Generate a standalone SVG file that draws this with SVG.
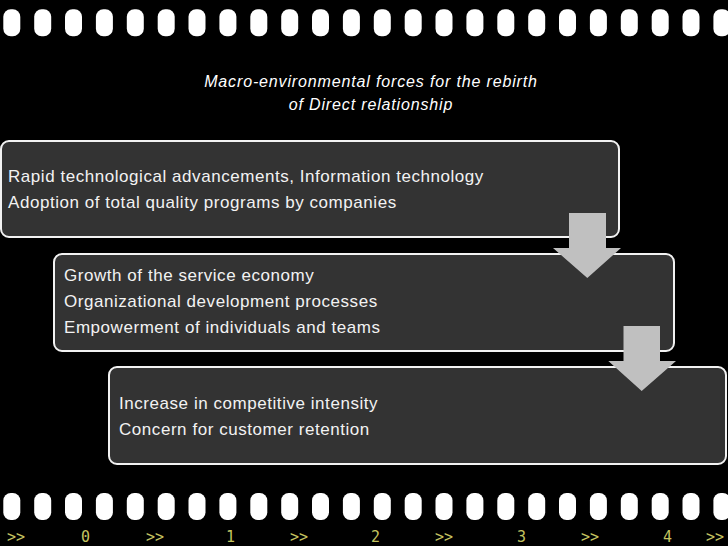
<svg xmlns="http://www.w3.org/2000/svg" width="728" height="546" viewBox="0 0 728 546">
<defs>
<style>
.hole{fill:#ffffff}
.box{fill:#333333;stroke:#f2f2f2;stroke-width:2}
.txt{font-family:"Liberation Sans",Arial,sans-serif;font-size:17px;letter-spacing:0.55px;fill:#f2f2f2}
.ttl{font-family:"Liberation Sans",Arial,sans-serif;font-size:16px;letter-spacing:0.85px;font-style:italic;fill:#ffffff;text-anchor:middle}
.num{font-family:"DejaVu Sans Mono","Liberation Mono",monospace;font-size:15px;fill:#c4c460}
.arr{fill:#c0c0c0}
</style>
<rect id="h" class="hole" width="17" height="27" rx="7.5"/>
</defs>
<rect width="728" height="546" fill="#000000"/>
<g id="film-top">
<use href="#h" x="3.3" y="9.3"/><use href="#h" x="34.2" y="9.3"/><use href="#h" x="65" y="9.3"/><use href="#h" x="95.9" y="9.3"/><use href="#h" x="126.8" y="9.3"/><use href="#h" x="157.7" y="9.3"/><use href="#h" x="188.5" y="9.3"/><use href="#h" x="219.4" y="9.3"/><use href="#h" x="250.3" y="9.3"/><use href="#h" x="281.2" y="9.3"/><use href="#h" x="312" y="9.3"/><use href="#h" x="342.9" y="9.3"/><use href="#h" x="373.8" y="9.3"/><use href="#h" x="404.7" y="9.3"/><use href="#h" x="435.5" y="9.3"/><use href="#h" x="466.4" y="9.3"/><use href="#h" x="497.3" y="9.3"/><use href="#h" x="528.2" y="9.3"/><use href="#h" x="559" y="9.3"/><use href="#h" x="589.9" y="9.3"/><use href="#h" x="620.8" y="9.3"/><use href="#h" x="651.7" y="9.3"/><use href="#h" x="682.5" y="9.3"/><use href="#h" x="713.4" y="9.3"/>
</g>
<g id="film-bottom">
<use href="#h" x="3.3" y="493"/><use href="#h" x="34.2" y="493"/><use href="#h" x="65" y="493"/><use href="#h" x="95.9" y="493"/><use href="#h" x="126.8" y="493"/><use href="#h" x="157.7" y="493"/><use href="#h" x="188.5" y="493"/><use href="#h" x="219.4" y="493"/><use href="#h" x="250.3" y="493"/><use href="#h" x="281.2" y="493"/><use href="#h" x="312" y="493"/><use href="#h" x="342.9" y="493"/><use href="#h" x="373.8" y="493"/><use href="#h" x="404.7" y="493"/><use href="#h" x="435.5" y="493"/><use href="#h" x="466.4" y="493"/><use href="#h" x="497.3" y="493"/><use href="#h" x="528.2" y="493"/><use href="#h" x="559" y="493"/><use href="#h" x="589.9" y="493"/><use href="#h" x="620.8" y="493"/><use href="#h" x="651.7" y="493"/><use href="#h" x="682.5" y="493"/><use href="#h" x="713.4" y="493"/>
</g>
<g id="film-labels">
<text class="num" x="7" y="542">&gt;&gt;</text>
<text class="num" x="81" y="542">0</text>
<text class="num" x="146" y="542">&gt;&gt;</text>
<text class="num" x="226" y="542">1</text>
<text class="num" x="290" y="542">&gt;&gt;</text>
<text class="num" x="371" y="542">2</text>
<text class="num" x="435" y="542">&gt;&gt;</text>
<text class="num" x="517" y="542">3</text>
<text class="num" x="581" y="542">&gt;&gt;</text>
<text class="num" x="663" y="542">4</text>
<text class="num" x="706" y="542">&gt;&gt;</text>
</g>
<g id="title">
<text class="ttl" x="371" y="87">Macro-environmental forces for the rebirth</text>
<text class="ttl" x="371" y="110">of Direct relationship</text>
</g>
<g id="node1">
<rect class="box" x="1" y="141" width="618" height="96" rx="8"/>
<text class="txt" x="8" y="182">Rapid technological advancements, Information technology</text>
<text class="txt" x="8" y="208">Adoption of total quality programs by companies</text>
</g>
<g id="node2">
<rect class="box" x="54" y="254" width="620" height="97" rx="8"/>
<text class="txt" x="64" y="281">Growth of the service economy</text>
<text class="txt" x="64" y="307">Organizational development processes</text>
<text class="txt" x="64" y="333">Empowerment of individuals and teams</text>
</g>
<g id="node3">
<rect class="box" x="109" y="367" width="617" height="97" rx="8"/>
<text class="txt" x="119" y="409">Increase in competitive intensity</text>
<text class="txt" x="119" y="435">Concern for customer retention</text>
</g>
<g id="connectors">
<polygon class="arr" points="569,213 606,213 606,248 621,248 587.3,278 553,248 569,248"/>
<polygon class="arr" points="623.5,326 660,326 660,361 676,361 641.7,391 608.3,361 623.5,361"/>
</g>
</svg>
